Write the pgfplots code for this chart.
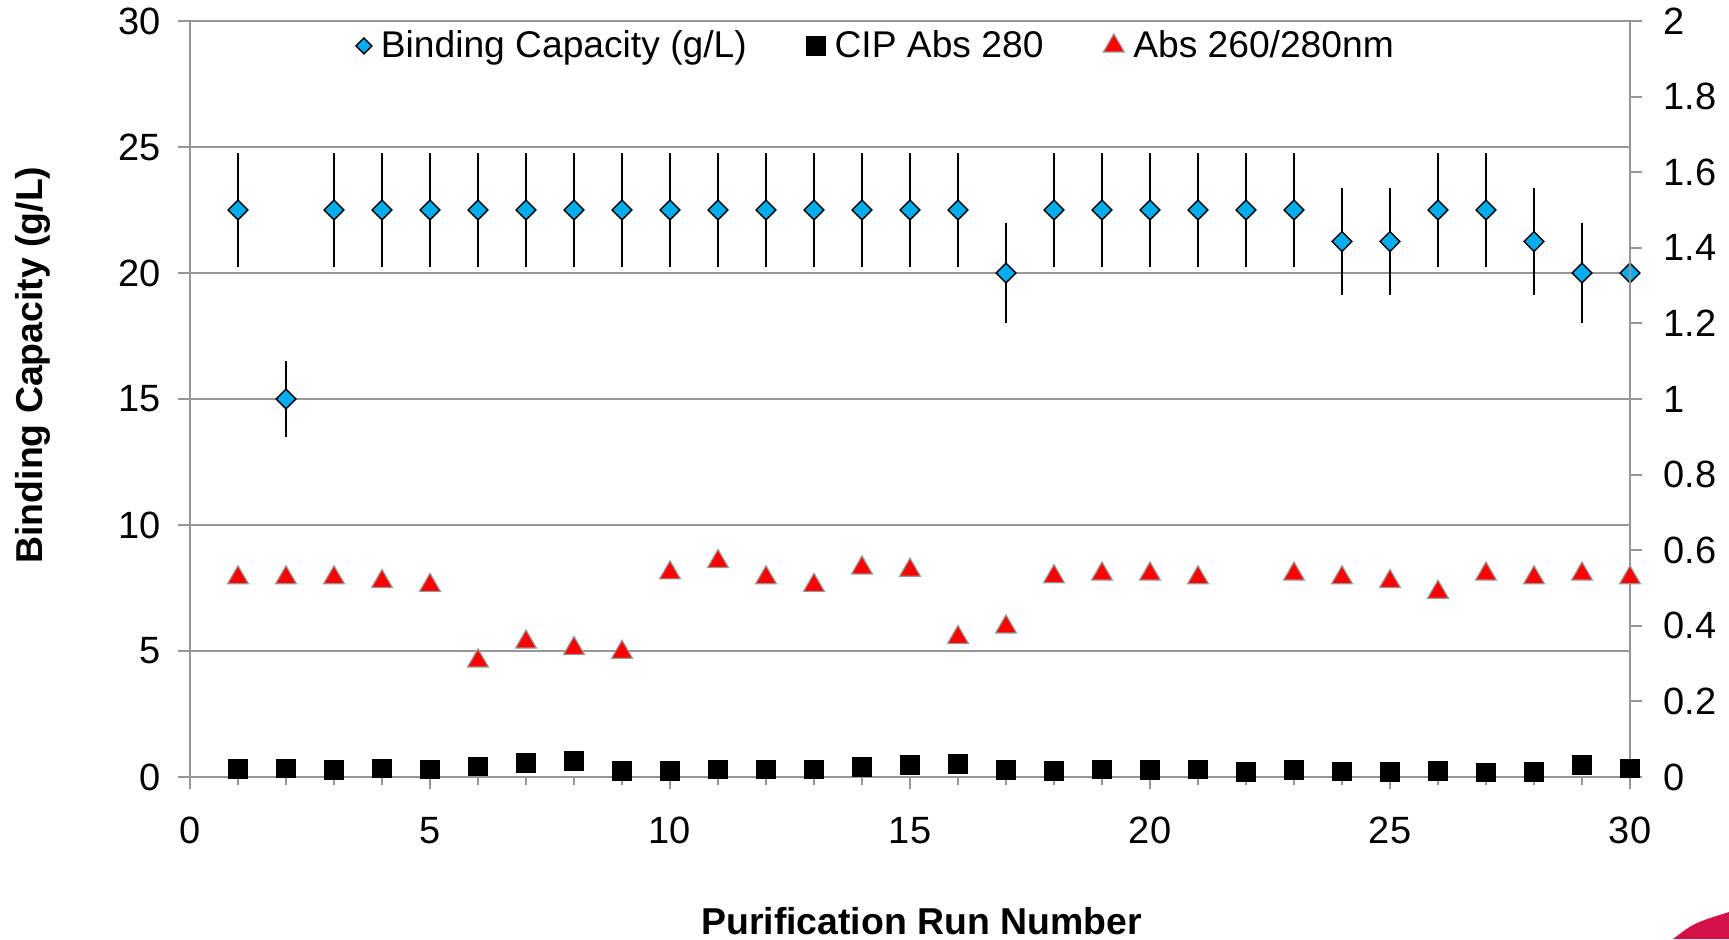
\documentclass[border=0pt]{standalone}
\usepackage{fontspec}
\setmainfont{Liberation Sans}
\usepackage{pgfplots}
\usepackage{pgfplotstable}
\pgfplotsset{compat=1.18}

\definecolor{bcblue}{RGB}{0,174,239}
\definecolor{gridgray}{RGB}{150,150,150}
\definecolor{decored}{RGB}{212,16,72}

% binding capacity (left axis), error = 10 %
\pgfplotstableread{
x bc err
1 22.5 2.25
2 15 1.5
3 22.5 2.25
4 22.5 2.25
5 22.5 2.25
6 22.5 2.25
7 22.5 2.25
8 22.5 2.25
9 22.5 2.25
10 22.5 2.25
11 22.5 2.25
12 22.5 2.25
13 22.5 2.25
14 22.5 2.25
15 22.5 2.25
16 22.5 2.25
17 20 2
18 22.5 2.25
19 22.5 2.25
20 22.5 2.25
21 22.5 2.25
22 22.5 2.25
23 22.5 2.25
24 21.25 2.125
25 21.25 2.125
26 22.5 2.25
27 22.5 2.25
28 21.25 2.125
29 20 2
30 20 2
}\bctable

% CIP Abs 280 (right axis)
\pgfplotstableread{
x y
1 0.021
2 0.023
3 0.018
4 0.023
5 0.020
6 0.028
7 0.037
8 0.042
9 0.017
10 0.016
11 0.020
12 0.020
13 0.020
14 0.027
15 0.033
16 0.035
17 0.018
18 0.016
19 0.020
20 0.019
21 0.020
22 0.013
23 0.018
24 0.015
25 0.014
26 0.016
27 0.012
28 0.014
29 0.031
30 0.023
}\ciptable

% Abs 260/280nm (right axis)
\pgfplotstableread{
x y
1 0.527
2 0.527
3 0.527
4 0.517
5 0.507
6 0.307
7 0.357
8 0.340
9 0.330
10 0.540
11 0.570
12 0.527
13 0.507
14 0.553
15 0.547
16 0.369
17 0.397
18 0.530
19 0.537
20 0.537
21 0.527
23 0.537
24 0.527
25 0.517
26 0.489
27 0.537
28 0.527
29 0.537
30 0.527
}\ratiotable

\pgfplotsset{
  tickmark/.style={only marks, forget plot, mark size=#1,
    mark options={draw=gridgray, line width=1pt}},
}

\begin{document}
\begin{tikzpicture}
\begin{axis}[
  scale only axis, width=720pt, height=378pt,
  xmin=0, xmax=30, ymin=0, ymax=30, clip=false,
  axis x line*=bottom, axis y line*=left,
  axis line style={gridgray, line width=0.8pt, -},
  tick align=outside, major tick length=6pt, minor tick length=4pt,
  tick style={gridgray, line width=1pt},
  xtick={0,5,...,30}, minor xtick={1,...,29},
  ytick={0,5,...,30},
  ticklabel style={font=\fontsize{19}{21}\selectfont},
  /pgf/number format/assume math mode=true,
  xticklabel style={yshift=-10.6pt},
  yticklabel style={xshift=-5pt},
  ymajorgrids, major grid style={gridgray, line width=0.8pt},
  xlabel={Purification Run Number}, ylabel={Binding Capacity (g/L)},
  label style={font=\bfseries\fontsize{18.7}{21}\selectfont},
  xlabel style={at={(axis description cs:0.508,-0.19)}, anchor=center},
  ylabel style={at={(axis description cs:-0.109,0.545)}, anchor=center},
]
  % tick marks below the x axis (6pt major, 4pt minor)
  \addplot[tickmark=3pt, mark=|] coordinates {
    (0,-0.238)(5,-0.238)(10,-0.238)(15,-0.238)(20,-0.238)(25,-0.238)(30,-0.238)};
  \addplot[tickmark=2pt, mark=|] coordinates {
    (1,-0.159)(2,-0.159)(3,-0.159)(4,-0.159)(6,-0.159)(7,-0.159)(8,-0.159)(9,-0.159)
    (11,-0.159)(12,-0.159)(13,-0.159)(14,-0.159)(16,-0.159)(17,-0.159)(18,-0.159)(19,-0.159)
    (21,-0.159)(22,-0.159)(23,-0.159)(24,-0.159)(26,-0.159)(27,-0.159)(28,-0.159)(29,-0.159)};
  % tick marks left of the left axis
  \addplot[tickmark=3pt, mark=-] coordinates {
    (-0.125,0)(-0.125,5)(-0.125,10)(-0.125,15)(-0.125,20)(-0.125,25)(-0.125,30)};
  \addplot[only marks, mark=square*, mark size=3.5pt,
    mark options={rotate=45, fill=bcblue, draw=black, line width=0.7pt},
    error bars/.cd, y dir=both, y explicit, error mark=none,
    error bar style={black, line width=1pt}]
    table[x=x, y=bc, y error=err] {\bctable};
\end{axis}
\begin{axis}[
  scale only axis, width=720pt, height=378pt,
  xmin=0, xmax=30, ymin=0, ymax=2, clip=false,
  axis x line=none, axis y line*=right,
  axis line style={gridgray, line width=0.8pt, -},
  tick align=outside, major tick length=6pt,
  tick style={gridgray, line width=1pt},
  ytick={0,0.2,0.4,0.6,0.8,1,1.2,1.4,1.6,1.8,2},
  ticklabel style={font=\fontsize{19}{21}\selectfont},
  /pgf/number format/assume math mode=true,
  yticklabel style={xshift=7.2pt},
  legend columns=3,
  legend image code/.code={\draw[#1] plot coordinates {(0pt,0pt)};},
  legend style={at={(0.115,0.967)}, anchor=west, draw=none, fill=none,
    inner sep=0pt, font=\fontsize{18.6}{21}\selectfont,
    /tikz/every odd column/.append style={column sep=2.5pt},
    /tikz/every even column/.append style={column sep=28pt}},
]
  % tick marks right of the right axis
  \addplot[tickmark=3pt, mark=-] coordinates {
    (30.125,0)(30.125,0.2)(30.125,0.4)(30.125,0.6)(30.125,0.8)(30.125,1)
    (30.125,1.2)(30.125,1.4)(30.125,1.6)(30.125,1.8)(30.125,2)};
  \addlegendimage{only marks, mark=square*, mark size=2.8pt,
    mark options={rotate=45, fill=bcblue, draw=black, line width=0.7pt}}
  \addlegendentry{Binding Capacity (g/L)}
  \addplot[only marks, mark=square*, mark size=4.7pt,
    mark options={fill=black, draw=black}]
    table[x=x, y=y] {\ciptable};
  \addlegendentry{CIP Abs 280}
  \addplot[only marks, mark=triangle*, mark size=6pt,
    mark options={fill=red, draw=gridgray, line width=0.6pt}]
    table[x=x, y=y] {\ratiotable};
  \addlegendentry{Abs 260/280nm}
\end{axis}
\fill[decored] (741.5pt,-81pt) .. controls (752pt,-73pt) .. (769.5pt,-67.5pt) -- (769.5pt,-81pt) -- cycle;
\pgfresetboundingbox
\path[use as bounding box] (-95pt,-81pt) rectangle (769.5pt,388.5pt);
\end{tikzpicture}
\end{document}
